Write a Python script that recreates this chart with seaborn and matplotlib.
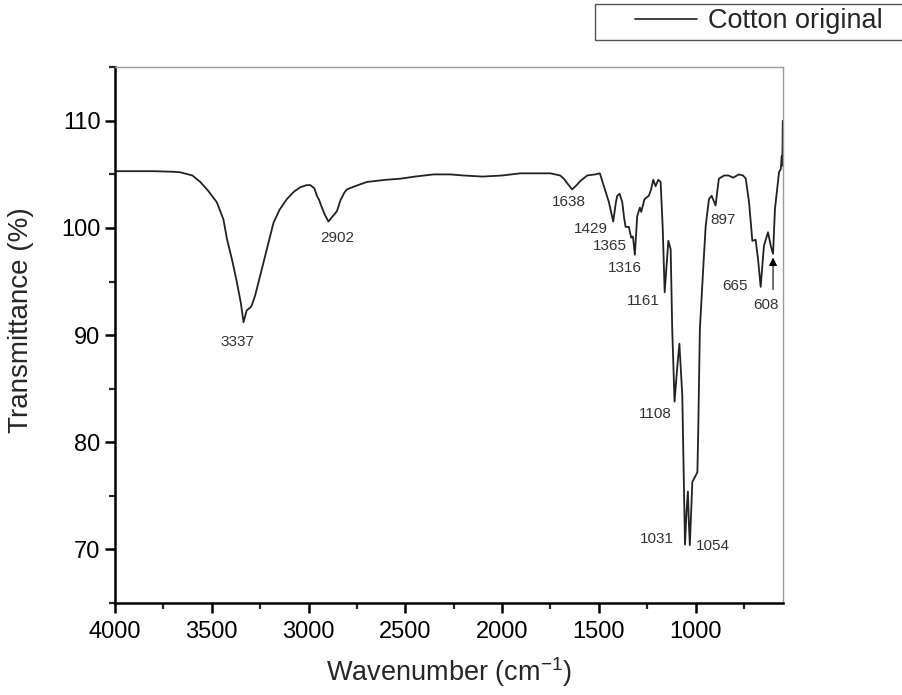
import matplotlib
matplotlib.use("Agg")
import matplotlib.pyplot as plt
import matplotlib.patches as mpatches
from matplotlib.ticker import MultipleLocator
import numpy as np
import pandas as pd
import seaborn as sns

# FTIR spectrum (wavenumber cm-1, transmittance %)
wavenumber = [
    4000, 3800, 3700, 3664, 3600, 3560, 3520, 3474, 3440, 3422, 3395, 3370, 3350,
    3336, 3320, 3300, 3293, 3276, 3255, 3233, 3205, 3181, 3150, 3112, 3075, 3043,
    3010, 2991, 2970, 2957, 2945, 2931, 2915, 2897, 2880, 2865, 2853, 2835, 2815,
    2802, 2760, 2698, 2600, 2526, 2450, 2354, 2267, 2200, 2100, 2000, 1905, 1750,
    1700, 1681, 1660, 1638, 1615, 1595, 1560, 1520, 1495, 1474, 1448, 1426, 1412,
    1405, 1393, 1379, 1370, 1362, 1345, 1333, 1324, 1314, 1302, 1288, 1281, 1264,
    1242, 1230, 1219, 1207, 1193, 1181, 1170, 1160, 1150, 1141, 1129, 1121, 1109,
    1095, 1084, 1069, 1060, 1055, 1047, 1040, 1035, 1030, 1017, 991, 987, 978,
    960, 948, 931, 917, 897, 880, 853, 830, 806, 776, 755, 741, 724, 707, 690,
    677, 664, 647, 626, 612, 600, 590, 569, 560, 555, 553, 551, 550,
]
transmittance = [
    105.3, 105.3, 105.25, 105.2, 104.9, 104.3, 103.5, 102.4, 100.8, 99.0, 97.0, 94.9, 93.0,
    91.2, 92.3, 92.6, 92.8, 93.7, 95.2, 96.8, 98.8, 100.5, 101.7, 102.7, 103.4, 103.8,
    104.0, 104.0, 103.7, 103.0, 102.6, 101.9, 101.2, 100.6, 101.0, 101.3, 101.6, 102.6, 103.3,
    103.6, 103.9, 104.3, 104.5, 104.6, 104.8, 105.0, 105.0, 104.9, 104.8, 104.9, 105.1, 105.1,
    104.9, 104.6, 104.1, 103.6, 104.0, 104.4, 104.9, 105.0, 105.1, 103.9, 102.4, 100.6, 102.4,
    103.0, 103.2, 102.4, 101.0, 100.1, 100.1, 99.1, 99.2, 97.5, 101.1, 101.9, 101.5, 102.7,
    103.0, 103.6, 104.5, 103.9, 104.5, 104.3, 100.0, 94.0, 96.5, 98.8, 98.0, 90.6, 83.8,
    87.0, 89.2, 84.4, 75.7, 70.45, 73.5, 75.4, 72.5, 70.4, 76.3, 77.2, 80.6, 90.6,
    96.5, 100.2, 102.7, 103.0, 102.1, 104.6, 104.9, 104.9, 104.7, 105.0, 104.9, 104.6, 102.4, 98.8, 98.9,
    97.0, 94.5, 98.35, 99.6, 98.35, 97.6, 101.8, 105.2, 105.5, 106.7, 105.8, 107.5, 110.0,
]

# peak labels and where their text sits
peak_text = ["3337", "2902", "1638", "1429", "1365", "1316", "1161",
             "1108", "1031", "1054", "897", "665", "608"]
peak_x = [3367, 2850, 1656, 1540, 1443, 1367, 1271, 1207, 1202, 909, 857, 798, 638]
peak_y = [89.4, 99.1, 102.4, 99.9, 98.3, 96.3, 93.2, 82.6, 70.95, 70.3, 100.7, 94.6, 92.8]

sns.set_style("ticks")
plt.rcParams["font.family"] = ["Liberation Sans", "DejaVu Sans"]
plt.rcParams["mathtext.fontset"] = "custom"
plt.rcParams["mathtext.rm"] = "Liberation Sans"
plt.rcParams["mathtext.it"] = "Liberation Sans"

df = pd.DataFrame({"wn": wavenumber, "T": transmittance})

fig = plt.figure(figsize=(9.03, 6.95), dpi=100)
ax = fig.add_axes([0.1274, 0.1324, 0.7394, 0.7708])

sns.lineplot(data=df, x="wn", y="T", ax=ax, color="#222222", linewidth=1.3,
             estimator=None, sort=False, label="Cotton original")

for t, x, y in zip(peak_text, peak_x, peak_y):
    ax.text(x, y, t, ha="center", va="center", fontsize=11, color="#333333")

# arrow pointing at the 608 band
ax.annotate("", xy=(600, 97.5), xytext=(600, 94.0),
            arrowprops=dict(arrowstyle="-|>", color="black", lw=0.8,
                            mutation_scale=12))

ax.set_xlim(4000, 550)
ax.set_ylim(65, 115)
ax.xaxis.set_major_locator(MultipleLocator(500))
ax.xaxis.set_minor_locator(MultipleLocator(250))
ax.yaxis.set_minor_locator(MultipleLocator(5))
ax.set_yticks([70, 80, 90, 100, 110])
ax.tick_params(which="major", direction="out", length=7, width=1.8,
               labelsize=17, colors="black")
ax.tick_params(which="minor", direction="out", length=4.5, width=1.6)
ax.tick_params(axis="x", pad=6)

for side in ["left", "bottom"]:
    ax.spines[side].set_color("black")
    ax.spines[side].set_linewidth(1.8)
for side in ["top", "right"]:
    ax.spines[side].set_color("#9a9a9a")
    ax.spines[side].set_linewidth(1.0)

ax.set_xlabel("Wavenumber (cm$^{-1}$)", fontsize=19.5, labelpad=9)
ax.set_ylabel("Transmittance (%)", fontsize=20)
ax.yaxis.set_label_coords(-0.121, 0.528)

# legend sits outside the axes, top right of the figure, in a square box
leg = ax.legend(loc="center left", bbox_to_anchor=(635 / 903, 1 - 21.5 / 695),
                bbox_transform=fig.transFigure, fontsize=19.5, frameon=False,
                handlelength=2.3, handletextpad=0.4,
                borderpad=0, borderaxespad=0)
for h in leg.legend_handles:
    h.set_linewidth(1.2)
box = mpatches.Rectangle((595 / 903, 1 - 39.5 / 695), 330 / 903, 35.5 / 695,
                         transform=fig.transFigure, fill=False,
                         edgecolor="#555555", linewidth=1.0, clip_on=False)
fig.patches.append(box)

fig.savefig("out.png", dpi=100, facecolor="white")
plt.close(fig)
